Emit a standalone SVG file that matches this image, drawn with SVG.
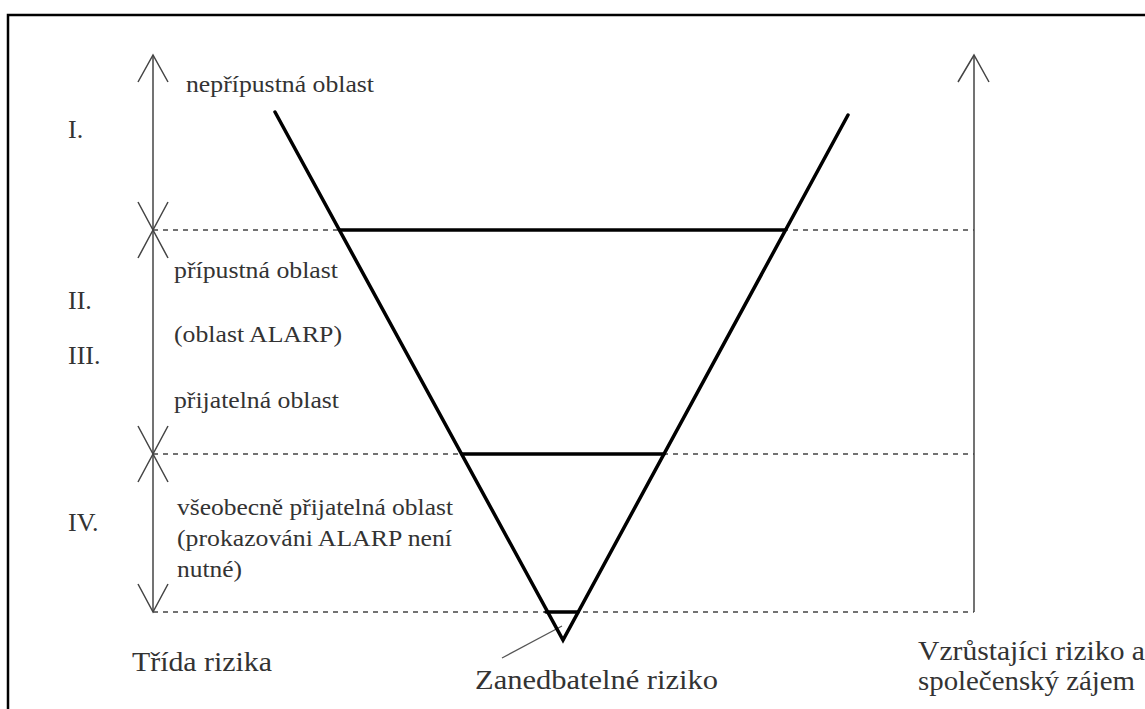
<svg xmlns="http://www.w3.org/2000/svg" width="1145" height="709" viewBox="0 0 1145 709">
<style>
.t{font-family:"Liberation Serif","Times New Roman",serif;fill:#333}
.lab{font-size:23px}
.rom{font-size:26px}
.big{font-size:28px}
.ax{stroke:#444;stroke-width:1.5;fill:none}
.dash{stroke:#444;stroke-width:1.5;stroke-dasharray:5 5;fill:none}
.v{stroke:#000;stroke-width:3.5;fill:none;stroke-linecap:round}
</style>
<rect x="8" y="15" width="1150" height="710" fill="#fff" stroke="#000" stroke-width="2.5"/>
<g id="connectors">
<line class="ax" x1="153" y1="55" x2="153" y2="612"/>
<path class="ax" d="M138,82 L153,55 L168,82"/>
<path class="ax" d="M138,202 L153,230 L168,202"/>
<path class="ax" d="M138,258 L153,230 L168,258"/>
<path class="ax" d="M138,426 L153,454 L168,426"/>
<path class="ax" d="M138,482 L153,454 L168,482"/>
<path class="ax" d="M138,584 L153,612 L168,584"/>
<line class="ax" x1="974" y1="55" x2="974" y2="612"/>
<path class="ax" d="M958,82 L974,55 L989,82"/>
<line class="dash" x1="153" y1="230" x2="974" y2="230"/>
<line class="dash" x1="153" y1="454" x2="974" y2="454"/>
<line class="dash" x1="153" y1="612" x2="974" y2="612"/>
<line x1="502" y1="658" x2="562" y2="626" stroke="#555" stroke-width="1.2"/>
</g>
<g id="funnel">
<path class="v" d="M275,112 L563,640 L848,115"/>
<line class="v" x1="340" y1="230" x2="785" y2="230" stroke-linecap="butt"/>
<line class="v" x1="462" y1="454" x2="664" y2="454" stroke-linecap="butt"/>
<line class="v" x1="546" y1="612" x2="578" y2="612" stroke-linecap="butt"/>
</g>
<g id="roman">
<text class="t rom" x="68" y="138">I.</text>
<text class="t rom" x="68" y="309">II.</text>
<text class="t rom" x="68" y="364">III.</text>
<text class="t rom" x="68" y="531">IV.</text>
</g>
<g id="labels">
<text class="t lab" x="186" y="92" textLength="188" lengthAdjust="spacingAndGlyphs">nepřípustná oblast</text>
<text class="t lab" x="174" y="278" textLength="164" lengthAdjust="spacingAndGlyphs">přípustná oblast</text>
<text class="t lab" x="174" y="342" textLength="168" lengthAdjust="spacingAndGlyphs">(oblast ALARP)</text>
<text class="t lab" x="174" y="408" textLength="165" lengthAdjust="spacingAndGlyphs">přijatelná oblast</text>
<text class="t lab" x="177" y="515" textLength="276" lengthAdjust="spacingAndGlyphs">všeobecně přijatelná oblast</text>
<text class="t lab" x="177" y="546" textLength="275" lengthAdjust="spacingAndGlyphs">(prokazováni ALARP není</text>
<text class="t lab" x="177" y="577" textLength="65" lengthAdjust="spacingAndGlyphs">nutné)</text>
</g>
<g id="bottom-labels">
<text class="t big" x="132" y="671" textLength="140" lengthAdjust="spacingAndGlyphs">Třída rizika</text>
<text class="t big" x="475" y="689" textLength="243" lengthAdjust="spacingAndGlyphs">Zanedbatelné riziko</text>
<text class="t big" x="918" y="660" textLength="227" lengthAdjust="spacingAndGlyphs">Vzrůstajíci riziko a</text>
<text class="t big" x="918" y="690" textLength="217" lengthAdjust="spacingAndGlyphs">společenský  zájem</text>
</g>
</svg>
